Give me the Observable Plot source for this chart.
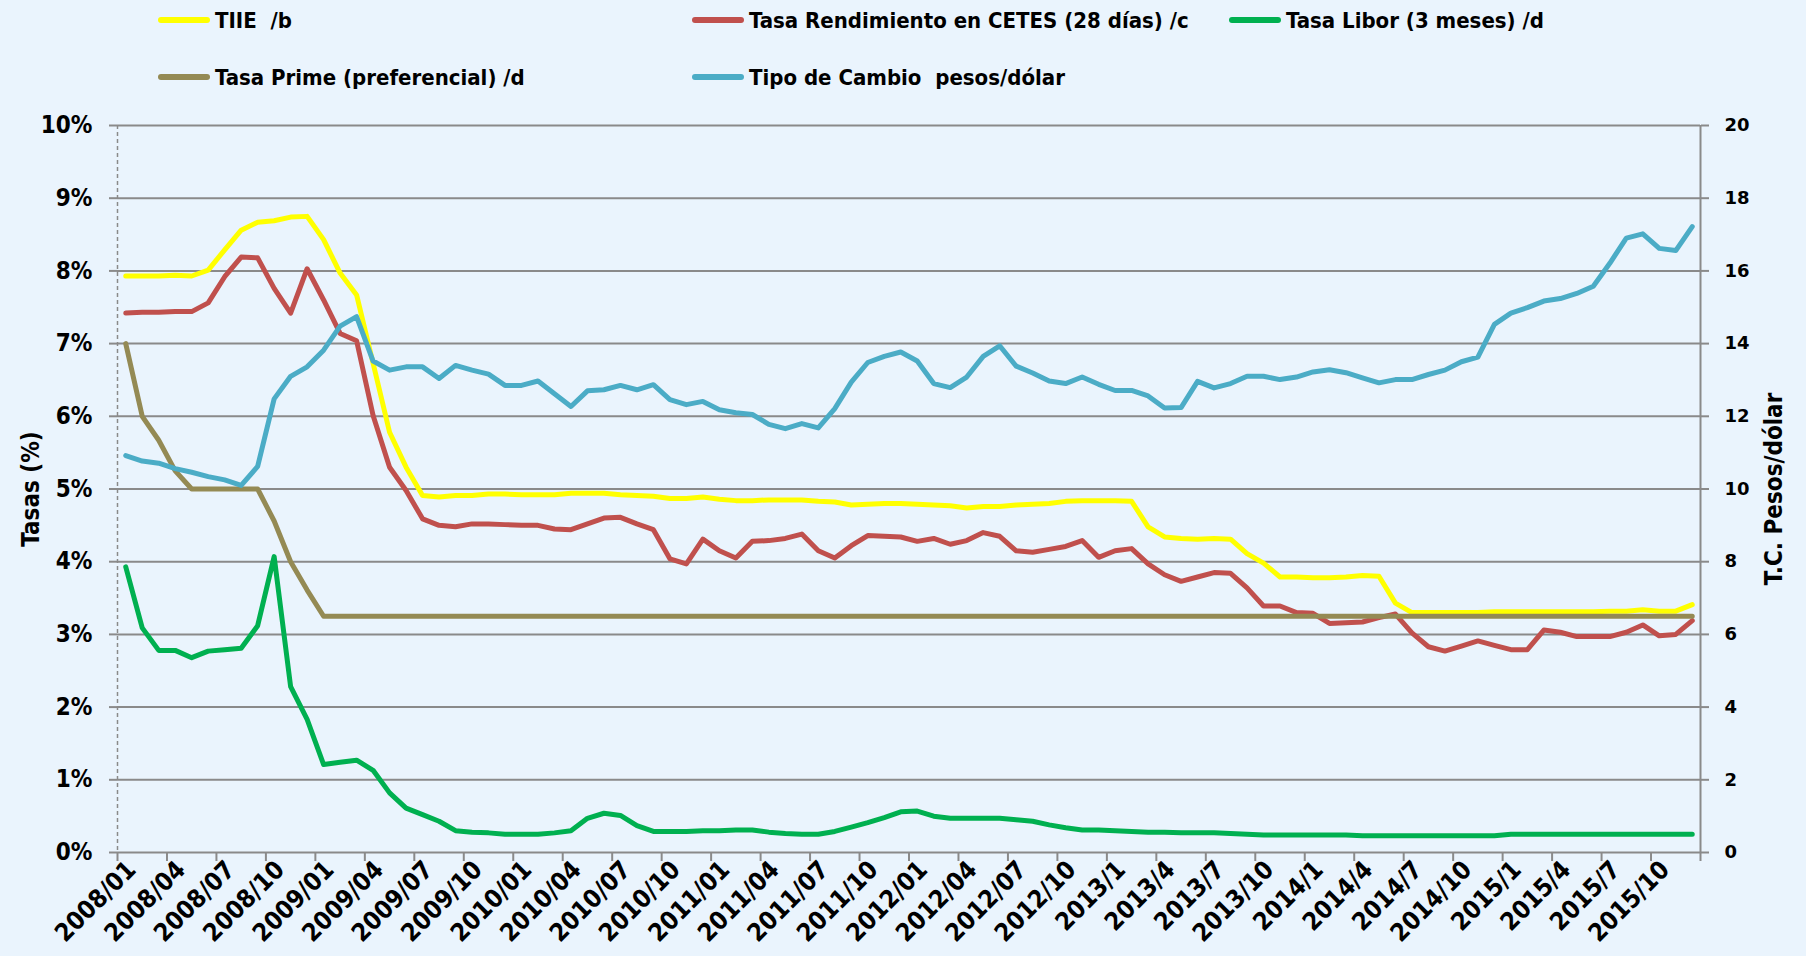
<!DOCTYPE html>
<html>
<head>
<meta charset="utf-8">
<script src="https://cdn.jsdelivr.net/npm/d3@7"></script>
<script src="https://cdn.jsdelivr.net/npm/@observablehq/plot@0.6"></script>
<style>
  html, body { margin: 0; padding: 0; background: #EAF4FD; }
  body { width: 1806px; height: 956px; overflow: hidden; }
  #legend { position: relative; width: 1806px; height: 100px; font-family: "Liberation Sans Narrow", "Arial Narrow", "DejaVu Sans Condensed", Roboto, sans-serif; font-weight: bold; font-size: 22px; color: #000; }
  .item { position: absolute; display: flex; align-items: center; white-space: pre; height: 30px; }
  .sw { width: 52px; height: 6px; border-radius: 3px; margin-right: 5px; }
  #chart svg { display: block; }
</style>
</head>
<body>
<div id="legend"></div>
<div id="chart"></div>
<script>
// Monthly series, 2008/01 .. 2015/12
const tiie = [7.93,7.93,7.93,7.94,7.93,8.01,8.29,8.56,8.67,8.69,8.74,8.75,
  8.43,7.97,7.67,6.73,5.78,5.30,4.91,4.89,4.91,4.91,4.93,4.93,
  4.92,4.92,4.92,4.94,4.94,4.94,4.92,4.91,4.90,4.87,4.87,4.89,
  4.86,4.84,4.84,4.85,4.85,4.85,4.83,4.82,4.78,4.79,4.80,4.80,
  4.79,4.78,4.77,4.74,4.76,4.76,4.78,4.79,4.80,4.83,4.84,4.84,
  4.84,4.83,4.48,4.34,4.32,4.31,4.32,4.31,4.11,3.98,3.79,3.79,
  3.78,3.78,3.79,3.81,3.80,3.43,3.30,3.30,3.30,3.30,3.30,3.31,
  3.31,3.31,3.31,3.31,3.31,3.31,3.32,3.32,3.34,3.32,3.32,3.41];
const cetes = [7.42,7.43,7.43,7.44,7.44,7.56,7.92,8.19,8.18,7.76,7.42,8.03,
  7.60,7.14,7.04,6.01,5.30,4.98,4.59,4.50,4.48,4.52,4.52,4.51,
  4.50,4.50,4.45,4.44,4.52,4.60,4.61,4.52,4.44,4.04,3.97,4.31,
  4.15,4.05,4.28,4.29,4.32,4.38,4.15,4.05,4.22,4.36,4.35,4.34,
  4.28,4.32,4.24,4.29,4.40,4.35,4.15,4.13,4.17,4.21,4.29,4.06,
  4.15,4.18,3.97,3.82,3.73,3.79,3.85,3.84,3.64,3.39,3.39,3.30,
  3.29,3.15,3.16,3.17,3.23,3.28,3.02,2.83,2.77,2.84,2.91,2.85,
  2.79,2.79,3.06,3.03,2.97,2.97,2.97,3.03,3.13,2.98,3.00,3.19];
const libor = [3.93,3.09,2.78,2.78,2.68,2.77,2.79,2.81,3.12,4.07,2.28,1.83,
  1.21,1.24,1.27,1.13,0.82,0.61,0.52,0.43,0.30,0.28,0.27,0.25,
  0.25,0.25,0.27,0.30,0.47,0.54,0.51,0.37,0.29,0.29,0.29,0.30,
  0.30,0.31,0.31,0.28,0.26,0.25,0.25,0.29,0.35,0.41,0.48,0.56,
  0.57,0.50,0.47,0.47,0.47,0.47,0.45,0.43,0.38,0.34,0.31,0.31,
  0.30,0.29,0.28,0.28,0.27,0.27,0.27,0.26,0.25,0.24,0.24,0.24,
  0.24,0.24,0.24,0.23,0.23,0.23,0.23,0.23,0.23,0.23,0.23,0.23,
  0.25,0.25,0.25,0.25,0.25,0.25,0.25,0.25,0.25,0.25,0.25,0.25];
const prime = [7.00,6.00,5.67,5.25,5.00,5.00,5.00,5.00,5.00,4.56,4.00,3.61,
  3.25,3.25,3.25,3.25,3.25,3.25,3.25,3.25,3.25,3.25,3.25,3.25,
  3.25,3.25,3.25,3.25,3.25,3.25,3.25,3.25,3.25,3.25,3.25,3.25,
  3.25,3.25,3.25,3.25,3.25,3.25,3.25,3.25,3.25,3.25,3.25,3.25,
  3.25,3.25,3.25,3.25,3.25,3.25,3.25,3.25,3.25,3.25,3.25,3.25,
  3.25,3.25,3.25,3.25,3.25,3.25,3.25,3.25,3.25,3.25,3.25,3.25,
  3.25,3.25,3.25,3.25,3.25,3.25,3.25,3.25,3.25,3.25,3.25,3.25,
  3.25,3.25,3.25,3.25,3.25,3.25,3.25,3.25,3.25,3.25,3.25,3.25];
const tipoCambio = [10.92,10.77,10.71,10.56,10.46,10.34,10.25,10.10,10.62,12.48,13.10,13.36,
  13.82,14.48,14.74,13.52,13.27,13.36,13.36,13.04,13.40,13.27,13.16,12.85,
  12.85,12.97,12.62,12.27,12.70,12.73,12.85,12.73,12.87,12.46,12.32,12.41,
  12.18,12.10,12.05,11.78,11.66,11.80,11.68,12.21,12.94,13.48,13.65,13.77,
  13.52,12.90,12.79,13.08,13.65,13.94,13.38,13.19,12.97,12.90,13.08,12.88,
  12.71,12.71,12.56,12.23,12.24,12.96,12.78,12.90,13.10,13.10,13.01,13.08,
  13.22,13.28,13.20,13.06,12.92,13.01,13.01,13.15,13.27,13.50,13.63,14.53,
  14.84,14.99,15.17,15.24,15.38,15.58,16.21,16.90,17.02,16.62,16.56,17.22];

const tickLabels = ["2008/01","2008/04","2008/07","2008/10","2009/01","2009/04","2009/07","2009/10",
  "2010/01","2010/04","2010/07","2010/10","2011/01","2011/04","2011/07","2011/10",
  "2012/01","2012/04","2012/07","2012/10","2013/1","2013/4","2013/7","2013/10",
  "2014/1","2014/4","2014/7","2014/10","2015/1","2015/4","2015/7","2015/10"];
const leftTicks = [0,1,2,3,4,5,6,7,8,9,10];          // Tasas (%)
const rightTicks = [0,2,4,6,8,10,12,14,16,18,20];    // T.C. pesos/dólar

const series = [
  {name: "TIIE  /b", data: tiie, color: "#FFFF00", axis: "left"},
  {name: "Tasa Rendimiento en CETES (28 días) /c", data: cetes, color: "#C0504D", axis: "left"},
  {name: "Tasa Libor (3 meses) /d", data: libor, color: "#00B050", axis: "left"},
  {name: "Tasa Prime (preferencial) /d", data: prime, color: "#948A54", axis: "left"},
  {name: "Tipo de Cambio  pesos/dólar", data: tipoCambio, color: "#4BACC6", axis: "right"}
];

// Legend (HTML, above the SVG)
const legendPos = [[158, 5], [692, 5], [1229, 5], [158, 62], [692, 62]];
const legend = document.getElementById("legend");
series.forEach((s, k) => {
  const it = document.createElement("div");
  it.className = "item";
  it.style.left = legendPos[k][0] + "px";
  it.style.top = legendPos[k][1] + "px";
  const sw = document.createElement("div");
  sw.className = "sw"; sw.style.background = s.color;
  const tx = document.createElement("span");
  tx.textContent = s.name;
  it.appendChild(sw); it.appendChild(tx);
  legend.appendChild(it);
});

const n = tiie.length;
const boundaries = d3.range(0, n + 1, 3).map(i => i - 0.5);
const labelIdx = tickLabels.map((_, k) => k * 3);
const ratio = 2; // right axis value = ratio * left axis value
const gray = "#8a8a8a";
const narrow = "'Liberation Sans Narrow', 'Arial Narrow', 'DejaVu Sans Condensed', Roboto, sans-serif";

const chart = Plot.plot({
  width: 1806,
  height: 856,
  marginTop: 25,
  marginBottom: 104,
  marginLeft: 117,
  marginRight: 106,
  style: {background: "transparent", color: "#000", fontFamily: narrow, fontWeight: "bold"},
  x: {type: "linear", domain: [-0.5, n - 0.5]},
  y: {domain: [0, 10]},
  marks: [
    Plot.gridY(leftTicks, {stroke: gray, strokeOpacity: 1, strokeWidth: 2}),
    Plot.ruleX([-0.5], {stroke: gray, strokeWidth: 1.5, strokeDasharray: "4,3"}),
    Plot.ruleX([n - 0.5], {stroke: gray, strokeWidth: 2}),
    Plot.axisY(leftTicks, {anchor: "left", tickSize: 8, tickPadding: 17, stroke: gray, strokeWidth: 2,
      tickFormat: d => d + "%", fontSize: 24, fontWeight: "bold", fontFamily: narrow, fill: "#000", label: null}),
    Plot.axisY(leftTicks, {anchor: "right", tickSize: 8, tickPadding: 16, stroke: gray, strokeWidth: 2,
      tickFormat: d => String(rightTicks[leftTicks.indexOf(d)]), fontSize: 18, fontWeight: "bold",
      fontFamily: "'DejaVu Sans', Verdana, sans-serif", fill: "#000", label: null}),
    Plot.axisX(boundaries, {anchor: "bottom", tickSize: 9, stroke: gray, strokeWidth: 2, tickFormat: () => "", label: null}),
    Plot.axisX(labelIdx, {anchor: "bottom", tickSize: 0, tickPadding: 13, tickRotate: -45, dx: 6,
      tickFormat: i => tickLabels[i / 3], fontSize: 25, fontWeight: "bold", fontFamily: narrow, fill: "#000", label: null}),
    Plot.text(["Tasas (%)"], {frameAnchor: "left", textAnchor: "middle", dx: -86, rotate: -90, fontSize: 24, fontWeight: "bold", fontFamily: narrow, fill: "#000"}),
    Plot.text(["T.C. Pesos/dólar"], {frameAnchor: "right", textAnchor: "middle", dx: 74, rotate: -90, fontSize: 24, fontWeight: "bold", fontFamily: narrow, fill: "#000"}),
    ...series.map(s => Plot.line(s.data, {
      x: (d, i) => i,
      y: d => s.axis === "right" ? d / ratio : d,
      stroke: s.color, strokeWidth: 5, strokeLinejoin: "round", strokeLinecap: "round"
    }))
  ]
});
document.getElementById("chart").appendChild(chart);
</script>
</body>
</html>
